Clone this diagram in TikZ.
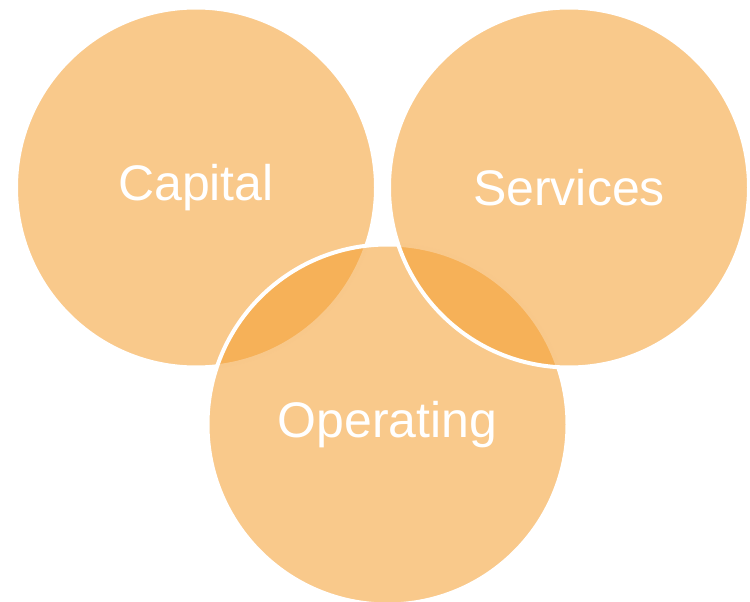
\documentclass[tikz,border=0pt]{standalone}
\usepackage{fontspec}
\setmainfont{Liberation Sans}
\definecolor{circfill}{RGB}{244,158,48}
\tikzset{
  venn/.style={circle, minimum size=360pt, inner sep=0pt, fill=circfill, fill opacity=0.56, draw=white, line width=4pt, text opacity=1, text=white, font=\fontsize{50}{60}\selectfont},
}
\begin{document}
\begin{tikzpicture}[x=1pt,y=-1pt]
\useasboundingbox (0,0) rectangle (750,602);
\node[venn] (capital) at (196,187.5) {\raisebox{-3pt}{Capital}};
\node[venn] (operating) at (387.5,424.5) {\raisebox{-3pt}{Operating}};
\node[venn] (services) at (569,187.5) {\raisebox{-3pt}{Services}};
\end{tikzpicture}
\end{document}
